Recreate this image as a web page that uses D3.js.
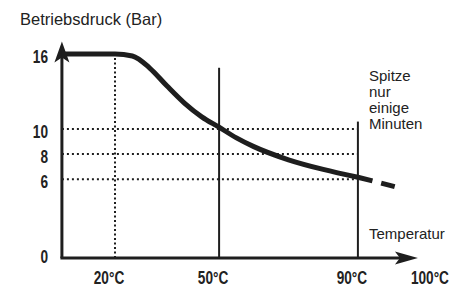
<!DOCTYPE html>
<html lang="de">
<head>
<meta charset="UTF-8">
<title>Betriebsdruck vs Temperatur</title>
<script src="https://d3js.org/d3.v7.min.js"></script>
<style>
body {
  margin: 0;
  background: white;
}
.lbl {
  font-family: "Liberation Sans", Arial, Helvetica, sans-serif;
  font-size: 15px;
  fill: #222;
}
.tick {
  font-family: "Liberation Sans", Arial, Helvetica, sans-serif;
  font-weight: bold;
  font-size: 17.5px;
  fill: #222;
}
</style>
</head>
<body>
<div id="chart"></div>
<script>
// values
var pressureTicks = [16, 10, 8, 6, 0];
var tempTicks = [20, 50, 90];
var tempTickLabels = ["20°C", "50°C", "90°C"];
var lastTempLabel = "100°C";

// main pressure curve (temperature, bar)
var curveT = [4.7, 20, 25, 30, 35, 40, 45, 50, 55, 60, 70, 80, 90];
var curveP = [16, 16, 15.84, 14.88, 13.44, 12.08, 10.98, 10.15, 9.3, 8.6, 7.55, 6.78, 6.15];
// dashed part past 90°C
var extT = [90, 95, 101];
var extP = [6.15, 5.8, 5.37];

// dotted guide lines
var guideP = [10, 8, 6];
var guideT = [20];
// solid vertical lines and their tops
var refT = [50, 90];
var refTop = [14.9, 10.6];

var noteLines = ["Spitze", "nur", "einige", "Minuten"];

var width = 462, height = 287;
var narrow = 0.78; // squeeze for the bold narrow tick font

var svg = d3.select("#chart")
  .append("svg")
    .attr("width", width)
    .attr("height", height);

// scales
var x = d3.scaleLinear().domain([0, 100]).range([45.6, 392.6]);
var y = d3.scaleLinear().domain([-0.3, 16]).range([258, 54]);

var t0 = 4.7, tEnd = 107.3, pEnd = 17;
var ink = "#1e1e1e";

// dotted horizontal lines
svg.append("g")
  .selectAll("line")
  .data(guideP)
  .enter()
  .append("line")
    .attr("x1", x(t0))
    .attr("x2", x(90))
    .attr("y1", function(d) { return y(d); })
    .attr("y2", function(d) { return y(d); })
    .style("stroke", ink)
    .style("stroke-width", 2)
    .style("stroke-dasharray", "2,3");

// dotted vertical at 20°C
svg.append("g")
  .selectAll("line")
  .data(guideT)
  .enter()
  .append("line")
    .attr("x1", function(d) { return x(d); })
    .attr("x2", function(d) { return x(d); })
    .attr("y1", y(-0.3))
    .attr("y2", y(16))
    .style("stroke", ink)
    .style("stroke-width", 2)
    .style("stroke-dasharray", "2,2.5");

// solid verticals at 50 and 90
svg.append("g")
  .selectAll("line")
  .data(refT)
  .enter()
  .append("line")
    .attr("x1", function(d) { return x(d); })
    .attr("x2", function(d) { return x(d); })
    .attr("y1", y(-0.3))
    .attr("y2", function(d, i) { return y(refTop[i]); })
    .style("stroke", ink)
    .style("stroke-width", 2);

// axes with arrows
svg.append("line")
  .attr("x1", x(t0)).attr("y1", y(-0.3))
  .attr("x2", x(t0)).attr("y2", y(pEnd) + 14)
  .style("stroke", ink)
  .style("stroke-width", 3);
svg.append("line")
  .attr("x1", x(t0) - 1.5).attr("y1", y(-0.3))
  .attr("x2", x(tEnd) - 14).attr("y2", y(-0.3))
  .style("stroke", ink)
  .style("stroke-width", 3);

var ax = x(t0), ay = y(pEnd);
svg.append("path")
  .attr("d", "M" + ax + "," + ay + " L" + (ax - 7.5) + "," + (ay + 21) +
             " L" + ax + "," + (ay + 16) + " L" + (ax + 7.5) + "," + (ay + 21) + "Z")
  .style("fill", ink);
var bx = x(tEnd), by = y(-0.3);
svg.append("path")
  .attr("d", "M" + bx + "," + by + " L" + (bx - 23) + "," + (by - 6.5) +
             " L" + (bx - 18) + "," + by + " L" + (bx - 23) + "," + (by + 6.5) + "Z")
  .style("fill", ink);

// pressure curve
var line = d3.line()
  .x(function(d) { return x(d[0]); })
  .y(function(d) { return y(d[1]); })
  .curve(d3.curveMonotoneX);

svg.append("path")
  .datum(d3.zip(curveT, curveP))
  .attr("d", line)
  .style("fill", "none")
  .style("stroke", ink)
  .style("stroke-width", 5);

svg.append("path")
  .datum(d3.zip(extT, extP))
  .attr("d", line)
  .style("fill", "none")
  .style("stroke", ink)
  .style("stroke-width", 5)
  .style("stroke-dasharray", "15,9,14,100");

// y tick labels
svg.append("g")
  .selectAll("text")
  .data(pressureTicks)
  .enter()
  .append("text")
    .attr("class", "tick")
    .attr("transform", function(d) {
      return "translate(48," + (y(d) + 9) + ") scale(" + narrow + ",1)";
    })
    .style("text-anchor", "end")
    .text(function(d) { return d; });

// x tick labels
svg.append("g")
  .selectAll("text")
  .data(tempTicks)
  .enter()
  .append("text")
    .attr("class", "tick")
    .attr("transform", function(d) {
      return "translate(" + (x(d) - 6) + ",284) scale(" + narrow + ",1)";
    })
    .style("text-anchor", "middle")
    .text(function(d, i) { return tempTickLabels[i]; });

svg.append("text")
  .attr("class", "tick")
  .attr("transform", "translate(" + (x(tEnd) + 12) + ",284) scale(" + narrow + ",1)")
  .style("text-anchor", "middle")
  .text(lastTempLabel);

// axis titles
svg.append("text")
  .attr("class", "lbl")
  .attr("x", 20)
  .attr("y", 25)
  .style("font-size", "16.5px")
  .text("Betriebsdruck (Bar)");

svg.append("text")
  .attr("class", "lbl")
  .attr("x", 369)
  .attr("y", 239)
  .text("Temperatur");

// note next to the 90°C line
svg.append("text")
  .attr("class", "lbl")
  .attr("x", 369)
  .attr("y", 81)
  .selectAll("tspan")
  .data(noteLines)
  .enter()
  .append("tspan")
    .attr("x", 369)
    .attr("dy", function(d, i) { return i == 0 ? 0 : 16; })
    .text(function(d) { return d; });
</script>
</body>
</html>
